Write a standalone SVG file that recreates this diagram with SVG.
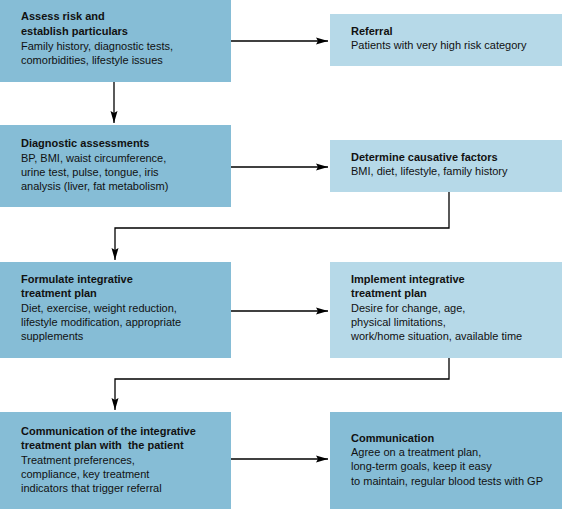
<svg xmlns="http://www.w3.org/2000/svg" width="562" height="509" viewBox="0 0 562 509">
<defs>
<style>
.dark{fill:#86bdd6}
.light{fill:#b6d9e8}
text{font-family:"Liberation Sans",Arial,sans-serif;font-size:11px;fill:#111}
.t{font-weight:bold}
.c{fill:none;stroke:#000;stroke-width:1.3}
</style>
<marker id="ah" viewBox="0 0 12 8" refX="12" refY="4" markerWidth="12" markerHeight="8" markerUnits="userSpaceOnUse" orient="auto">
<path d="M0,0.5 L12,4 L0,7.5 L2,4 z" fill="#000"/>
</marker>
</defs>
<rect width="562" height="509" fill="#fff"/>
<g id="connectors">
<path class="c" d="M231,41 H328" marker-end="url(#ah)"/>
<path class="c" d="M114,82 V123" marker-end="url(#ah)"/>
<path class="c" d="M231,167 H328" marker-end="url(#ah)"/>
<path class="c" d="M449,192 V228 H115 V260" marker-end="url(#ah)"/>
<path class="c" d="M231,311 H328" marker-end="url(#ah)"/>
<path class="c" d="M449,358 V379 H115 V410" marker-end="url(#ah)"/>
<path class="c" d="M231,459 H328" marker-end="url(#ah)"/>
</g>
<g id="assess">
<rect class="dark" x="0" y="0" width="231" height="82"/>
<text x="21" y="20" class="t">Assess risk and</text>
<text x="21" y="35" class="t">establish particulars</text>
<text x="21" y="50">Family history, diagnostic tests,</text>
<text x="21" y="64">comorbidities, lifestyle issues</text>
</g>
<g id="referral">
<rect class="light" x="330" y="14" width="232" height="52"/>
<text x="351" y="35" class="t">Referral</text>
<text x="351" y="49">Patients with very high risk category</text>
</g>
<g id="diagnostic">
<rect class="dark" x="0" y="125" width="231" height="82"/>
<text x="21" y="147" class="t">Diagnostic assessments</text>
<text x="21" y="162">BP, BMI, waist circumference,</text>
<text x="21" y="176">urine test, pulse, tongue, iris</text>
<text x="21" y="190">analysis (liver, fat metabolism)</text>
</g>
<g id="causative">
<rect class="light" x="330" y="140" width="232" height="52"/>
<text x="351" y="161" class="t">Determine causative factors</text>
<text x="351" y="175">BMI, diet, lifestyle, family history</text>
</g>
<g id="formulate">
<rect class="dark" x="0" y="262" width="231" height="96"/>
<text x="21" y="283" class="t">Formulate integrative</text>
<text x="21" y="297" class="t">treatment plan</text>
<text x="21" y="312">Diet, exercise, weight reduction,</text>
<text x="21" y="326">lifestyle modification, appropriate</text>
<text x="21" y="340">supplements</text>
</g>
<g id="implement">
<rect class="light" x="330" y="262" width="232" height="96"/>
<text x="351" y="283" class="t">Implement integrative</text>
<text x="351" y="297" class="t">treatment plan</text>
<text x="351" y="312">Desire for change, age,</text>
<text x="351" y="326">physical limitations,</text>
<text x="351" y="340">work/home situation, available time</text>
</g>
<g id="communication-plan">
<rect class="dark" x="0" y="412" width="231" height="97"/>
<text x="21" y="435" class="t">Communication of the integrative</text>
<text x="21" y="449" class="t" xml:space="preserve">treatment plan with  the patient</text>
<text x="21" y="464">Treatment preferences,</text>
<text x="21" y="478">compliance, key treatment</text>
<text x="21" y="492">indicators that trigger referral</text>
</g>
<g id="communication">
<rect class="dark" x="330" y="412" width="232" height="97"/>
<text x="351" y="442" class="t">Communication</text>
<text x="351" y="456">Agree on a treatment plan,</text>
<text x="351" y="470">long-term goals, keep it easy</text>
<text x="351" y="485">to maintain, regular blood tests with GP</text>
</g>
</svg>
